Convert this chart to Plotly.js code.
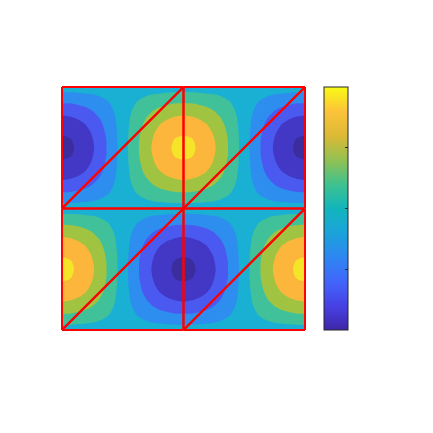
<!DOCTYPE html>
<html>
<head>
<meta charset="utf-8">
<script src="https://cdn.plot.ly/plotly-3.0.1.min.js"></script>
<style>
  html, body { margin: 0; padding: 0; background: #fff; }
  #myDiv { width: 433px; height: 433px; }
</style>
</head>
<body>
<div id="myDiv"></div>
<script>
// grid the solution was sampled on
const xs = [0, .0625, .125, .1875, .25, .3125, .375, .4375, .5, .5625, .625, .6875, .75, .8125, .875, .9375, 1,
  1.0625, 1.125, 1.1875, 1.25, 1.3125, 1.375, 1.4375, 1.5, 1.5625, 1.625, 1.6875, 1.75, 1.8125, 1.875, 1.9375, 2];
const ys = [0, .0625, .125, .1875, .25, .3125, .375, .4375, .5, .5625, .625, .6875, .75, .8125, .875, .9375, 1,
  1.0625, 1.125, 1.1875, 1.25, 1.3125, 1.375, 1.4375, 1.5, 1.5625, 1.625, 1.6875, 1.75, 1.8125, 1.875, 1.9375, 2];

// values, one row per y (bottom to top)
const u = [
  [0, 0, 0, 0, 0, 0, 0, 0, 0, 0, 0, 0, 0, 0, 0, 0, 0, 0, 0, 0, 0, 0, 0, 0, 0, 0, 0, 0, 0, 0, 0, 0, 0],
  [.2, .19, .18, .16, .14, .11, .07, .04, 0, -.04, -.07, -.11, -.14, -.16, -.18, -.19, -.2, -.19, -.18, -.16, -.14, -.11, -.07, -.04, 0, .04, .07, .11, .14, .16, .18, .19, .2],
  [.38, .38, .35, .32, .27, .21, .15, .07, 0, -.07, -.15, -.21, -.27, -.32, -.35, -.38, -.38, -.38, -.35, -.32, -.27, -.21, -.15, -.07, 0, .07, .15, .21, .27, .32, .35, .38, .38],
  [.56, .54, .51, .46, .39, .31, .21, .11, 0, -.11, -.21, -.31, -.39, -.46, -.51, -.54, -.56, -.54, -.51, -.46, -.39, -.31, -.21, -.11, 0, .11, .21, .31, .39, .46, .51, .54, .56],
  [.71, .69, .65, .59, .5, .39, .27, .14, 0, -.14, -.27, -.39, -.5, -.59, -.65, -.69, -.71, -.69, -.65, -.59, -.5, -.39, -.27, -.14, 0, .14, .27, .39, .5, .59, .65, .69, .71],
  [.83, .82, .77, .69, .59, .46, .32, .16, 0, -.16, -.32, -.46, -.59, -.69, -.77, -.82, -.83, -.82, -.77, -.69, -.59, -.46, -.32, -.16, 0, .16, .32, .46, .59, .69, .77, .82, .83],
  [.92, .91, .85, .77, .65, .51, .35, .18, 0, -.18, -.35, -.51, -.65, -.77, -.85, -.91, -.92, -.91, -.85, -.77, -.65, -.51, -.35, -.18, 0, .18, .35, .51, .65, .77, .85, .91, .92],
  [.98, .96, .91, .82, .69, .54, .38, .19, 0, -.19, -.38, -.54, -.69, -.82, -.91, -.96, -.98, -.96, -.91, -.82, -.69, -.54, -.38, -.19, 0, .19, .38, .54, .69, .82, .91, .96, .98],
  [1, .98, .92, .83, .71, .56, .38, .2, 0, -.2, -.38, -.56, -.71, -.83, -.92, -.98, -1, -.98, -.92, -.83, -.71, -.56, -.38, -.2, 0, .2, .38, .56, .71, .83, .92, .98, 1],
  [.98, .96, .91, .82, .69, .54, .38, .19, 0, -.19, -.38, -.54, -.69, -.82, -.91, -.96, -.98, -.96, -.91, -.82, -.69, -.54, -.38, -.19, 0, .19, .38, .54, .69, .82, .91, .96, .98],
  [.92, .91, .85, .77, .65, .51, .35, .18, 0, -.18, -.35, -.51, -.65, -.77, -.85, -.91, -.92, -.91, -.85, -.77, -.65, -.51, -.35, -.18, 0, .18, .35, .51, .65, .77, .85, .91, .92],
  [.83, .82, .77, .69, .59, .46, .32, .16, 0, -.16, -.32, -.46, -.59, -.69, -.77, -.82, -.83, -.82, -.77, -.69, -.59, -.46, -.32, -.16, 0, .16, .32, .46, .59, .69, .77, .82, .83],
  [.71, .69, .65, .59, .5, .39, .27, .14, 0, -.14, -.27, -.39, -.5, -.59, -.65, -.69, -.71, -.69, -.65, -.59, -.5, -.39, -.27, -.14, 0, .14, .27, .39, .5, .59, .65, .69, .71],
  [.56, .54, .51, .46, .39, .31, .21, .11, 0, -.11, -.21, -.31, -.39, -.46, -.51, -.54, -.56, -.54, -.51, -.46, -.39, -.31, -.21, -.11, 0, .11, .21, .31, .39, .46, .51, .54, .56],
  [.38, .38, .35, .32, .27, .21, .15, .07, 0, -.07, -.15, -.21, -.27, -.32, -.35, -.38, -.38, -.38, -.35, -.32, -.27, -.21, -.15, -.07, 0, .07, .15, .21, .27, .32, .35, .38, .38],
  [.2, .19, .18, .16, .14, .11, .07, .04, 0, -.04, -.07, -.11, -.14, -.16, -.18, -.19, -.2, -.19, -.18, -.16, -.14, -.11, -.07, -.04, 0, .04, .07, .11, .14, .16, .18, .19, .2],
  [0, 0, 0, 0, 0, 0, 0, 0, 0, 0, 0, 0, 0, 0, 0, 0, 0, 0, 0, 0, 0, 0, 0, 0, 0, 0, 0, 0, 0, 0, 0, 0, 0],
  [-.2, -.19, -.18, -.16, -.14, -.11, -.07, -.04, 0, .04, .07, .11, .14, .16, .18, .19, .2, .19, .18, .16, .14, .11, .07, .04, 0, -.04, -.07, -.11, -.14, -.16, -.18, -.19, -.2],
  [-.38, -.38, -.35, -.32, -.27, -.21, -.15, -.07, 0, .07, .15, .21, .27, .32, .35, .38, .38, .38, .35, .32, .27, .21, .15, .07, 0, -.07, -.15, -.21, -.27, -.32, -.35, -.38, -.38],
  [-.56, -.54, -.51, -.46, -.39, -.31, -.21, -.11, 0, .11, .21, .31, .39, .46, .51, .54, .56, .54, .51, .46, .39, .31, .21, .11, 0, -.11, -.21, -.31, -.39, -.46, -.51, -.54, -.56],
  [-.71, -.69, -.65, -.59, -.5, -.39, -.27, -.14, 0, .14, .27, .39, .5, .59, .65, .69, .71, .69, .65, .59, .5, .39, .27, .14, 0, -.14, -.27, -.39, -.5, -.59, -.65, -.69, -.71],
  [-.83, -.82, -.77, -.69, -.59, -.46, -.32, -.16, 0, .16, .32, .46, .59, .69, .77, .82, .83, .82, .77, .69, .59, .46, .32, .16, 0, -.16, -.32, -.46, -.59, -.69, -.77, -.82, -.83],
  [-.92, -.91, -.85, -.77, -.65, -.51, -.35, -.18, 0, .18, .35, .51, .65, .77, .85, .91, .92, .91, .85, .77, .65, .51, .35, .18, 0, -.18, -.35, -.51, -.65, -.77, -.85, -.91, -.92],
  [-.98, -.96, -.91, -.82, -.69, -.54, -.38, -.19, 0, .19, .38, .54, .69, .82, .91, .96, .98, .96, .91, .82, .69, .54, .38, .19, 0, -.19, -.38, -.54, -.69, -.82, -.91, -.96, -.98],
  [-1, -.98, -.92, -.83, -.71, -.56, -.38, -.2, 0, .2, .38, .56, .71, .83, .92, .98, 1, .98, .92, .83, .71, .56, .38, .2, 0, -.2, -.38, -.56, -.71, -.83, -.92, -.98, -1],
  [-.98, -.96, -.91, -.82, -.69, -.54, -.38, -.19, 0, .19, .38, .54, .69, .82, .91, .96, .98, .96, .91, .82, .69, .54, .38, .19, 0, -.19, -.38, -.54, -.69, -.82, -.91, -.96, -.98],
  [-.92, -.91, -.85, -.77, -.65, -.51, -.35, -.18, 0, .18, .35, .51, .65, .77, .85, .91, .92, .91, .85, .77, .65, .51, .35, .18, 0, -.18, -.35, -.51, -.65, -.77, -.85, -.91, -.92],
  [-.83, -.82, -.77, -.69, -.59, -.46, -.32, -.16, 0, .16, .32, .46, .59, .69, .77, .82, .83, .82, .77, .69, .59, .46, .32, .16, 0, -.16, -.32, -.46, -.59, -.69, -.77, -.82, -.83],
  [-.71, -.69, -.65, -.59, -.5, -.39, -.27, -.14, 0, .14, .27, .39, .5, .59, .65, .69, .71, .69, .65, .59, .5, .39, .27, .14, 0, -.14, -.27, -.39, -.5, -.59, -.65, -.69, -.71],
  [-.56, -.54, -.51, -.46, -.39, -.31, -.21, -.11, 0, .11, .21, .31, .39, .46, .51, .54, .56, .54, .51, .46, .39, .31, .21, .11, 0, -.11, -.21, -.31, -.39, -.46, -.51, -.54, -.56],
  [-.38, -.38, -.35, -.32, -.27, -.21, -.15, -.07, 0, .07, .15, .21, .27, .32, .35, .38, .38, .38, .35, .32, .27, .21, .15, .07, 0, -.07, -.15, -.21, -.27, -.32, -.35, -.38, -.38],
  [-.2, -.19, -.18, -.16, -.14, -.11, -.07, -.04, 0, .04, .07, .11, .14, .16, .18, .19, .2, .19, .18, .16, .14, .11, .07, .04, 0, -.04, -.07, -.11, -.14, -.16, -.18, -.19, -.2],
  [0, 0, 0, 0, 0, 0, 0, 0, 0, 0, 0, 0, 0, 0, 0, 0, 0, 0, 0, 0, 0, 0, 0, 0, 0, 0, 0, 0, 0, 0, 0, 0, 0]
];

// mesh: 3x3 nodes, 8 triangles
const nodeX = [0, 1, 2, 0, 1, 2, 0, 1, 2];
const nodeY = [0, 0, 0, 1, 1, 1, 2, 2, 2];
const tris = [
  [0, 1, 4], [0, 4, 3],
  [1, 2, 5], [1, 5, 4],
  [3, 4, 7], [3, 7, 6],
  [4, 5, 8], [4, 8, 7]
];

// band colours (lowest to highest) and the parula map for the colorbar
const bandColors = ['#3c2d9f', '#4338c6', '#4a5af0', '#2e8ef0', '#19b0d4', '#40c19a', '#a0c342', '#fcb63c', '#f4e528'];
const parula = [
  [0.0, '#3e26a8'], [0.1, '#4741e4'], [0.2, '#4166fb'], [0.3, '#2d87f1'],
  [0.4, '#1ba3da'], [0.5, '#12b5bc'], [0.6, '#3fc28f'], [0.7, '#93c152'],
  [0.8, '#dcb936'], [0.9, '#fcc33a'], [1.0, '#f9fb15']
];

var contourScale = bandColors.map(function (c, i) {
  return [i / (bandColors.length - 1), c];
});

var field = {
  type: 'contour',
  x: xs,
  y: ys,
  z: u,
  autocontour: false,
  contours: {start: -0.945, end: 0.95, size: 0.27, coloring: 'fill', showlines: false},
  line: {width: 0, smoothing: 1},
  colorscale: contourScale,
  showscale: false,
  hoverinfo: 'skip'
};

// mesh edges with gaps between them
var ex = [], ey = [];
tris.forEach(function (t) {
  for (let k = 0; k < 3; k++) {
    let a = t[k], b = t[(k + 1) % 3];
    ex.push(nodeX[a], nodeX[b], null);
    ey.push(nodeY[a], nodeY[b], null);
  }
});

var mesh = {
  type: 'scatter',
  mode: 'lines',
  x: ex,
  y: ey,
  line: {color: '#ff0000', width: 2},
  hoverinfo: 'skip'
};

// invisible trace just to carry the continuous colorbar
var bar = {
  type: 'scatter',
  mode: 'markers',
  x: [1],
  y: [1],
  marker: {
    color: [0],
    cmin: -1,
    cmax: 1,
    colorscale: parula,
    opacity: 0,
    size: 1,
    showscale: true,
    colorbar: {
      x: 1.0735, xanchor: 'left', xpad: 0,
      y: 0.5, yanchor: 'middle', ypad: 0,
      len: 0.992, lenmode: 'fraction',
      thickness: 24, thicknessmode: 'pixels',
      outlinewidth: 1, outlinecolor: '#262626',
      tickvals: [-0.5, 0, 0.5],
      ticks: 'inside', ticklen: 3, tickcolor: '#262626',
      showticklabels: false
    }
  },
  hoverinfo: 'skip'
};

var layout = {
  width: 433,
  height: 433,
  showlegend: false,
  paper_bgcolor: '#ffffff',
  plot_bgcolor: '#ffffff',
  margin: {l: 61, r: 127, t: 86, b: 102, pad: 0},
  xaxis: {range: [-0.008, 2.008], visible: false, fixedrange: true},
  yaxis: {range: [-0.008, 2.008], visible: false, fixedrange: true}
};

Plotly.newPlot('myDiv', [field, mesh, bar], layout, {staticPlot: true});
</script>
</body>
</html>
